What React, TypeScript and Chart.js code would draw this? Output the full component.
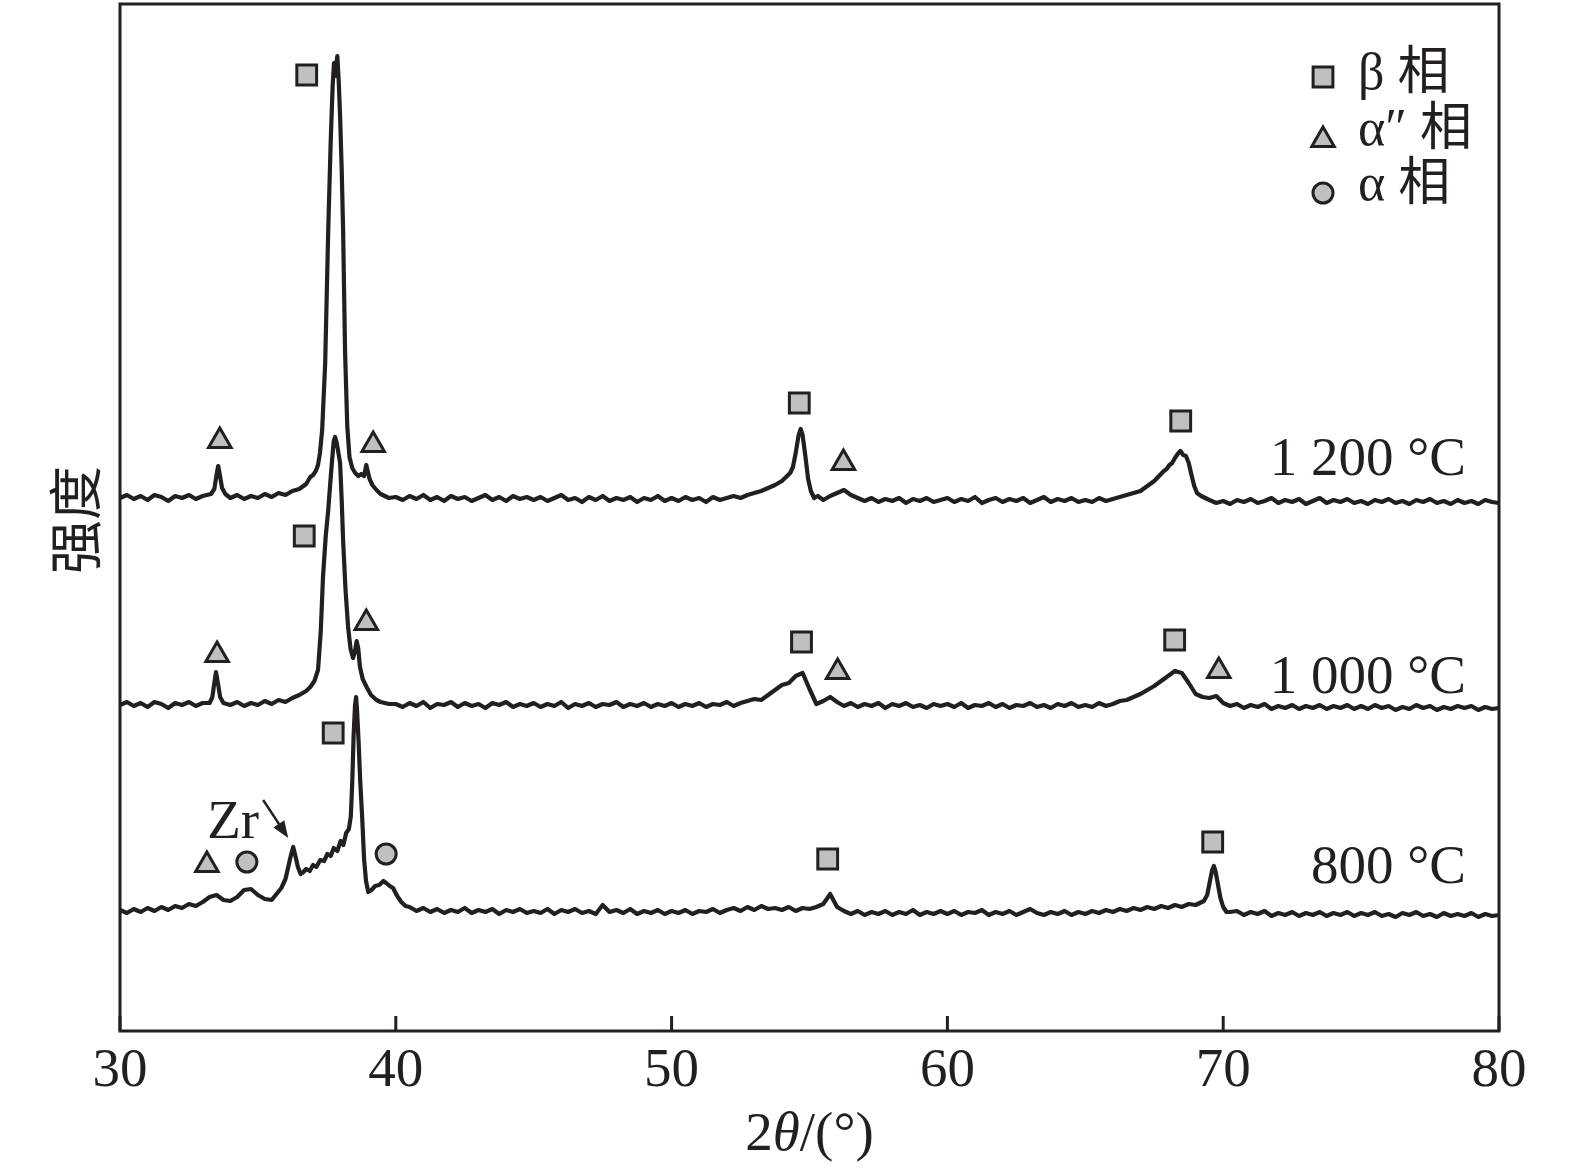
import React, { useEffect, useRef } from "react";
import { Chart, registerables } from "chart.js";

Chart.register(...registerables);

// ---- sampling grid (2θ, degrees) ----
const GRID = [
  30, 30.25, 30.5, 30.75, 31, 31.25, 31.5, 31.75, 32, 32.25, 32.5, 32.75, 33, 33.25, 33.5, 33.75, 34, 34.25, 34.5, 34.75,
  35, 35.25, 35.5, 35.75, 36, 36.25, 36.5, 36.75, 37, 37.25, 37.5, 37.75, 38, 38.25, 38.5, 38.75, 39, 39.25, 39.5, 39.75,
  40, 40.25, 40.5, 40.75, 41, 41.25, 41.5, 41.75, 42, 42.25, 42.5, 42.75, 43, 43.25, 43.5, 43.75, 44, 44.25, 44.5, 44.75,
  45, 45.25, 45.5, 45.75, 46, 46.25, 46.5, 46.75, 47, 47.25, 47.5, 47.75, 48, 48.25, 48.5, 48.75, 49, 49.25, 49.5, 49.75,
  50, 50.25, 50.5, 50.75, 51, 51.25, 51.5, 51.75, 52, 52.25, 52.5, 52.75, 53, 53.25, 53.5, 53.75, 54, 54.25, 54.5, 54.75,
  55, 55.25, 55.5, 55.75, 56, 56.25, 56.5, 56.75, 57, 57.25, 57.5, 57.75, 58, 58.25, 58.5, 58.75, 59, 59.25, 59.5, 59.75,
  60, 60.25, 60.5, 60.75, 61, 61.25, 61.5, 61.75, 62, 62.25, 62.5, 62.75, 63, 63.25, 63.5, 63.75, 64, 64.25, 64.5, 64.75,
  65, 65.25, 65.5, 65.75, 66, 66.25, 66.5, 66.75, 67, 67.25, 67.5, 67.75, 68, 68.25, 68.5, 68.75, 69, 69.25, 69.5, 69.75,
  70, 70.25, 70.5, 70.75, 71, 71.25, 71.5, 71.75, 72, 72.25, 72.5, 72.75, 73, 73.25, 73.5, 73.75, 74, 74.25, 74.5, 74.75,
  75, 75.25, 75.5, 75.75, 76, 76.25, 76.5, 76.75, 77, 77.25, 77.5, 77.75, 78, 78.25, 78.5, 78.75, 79, 79.25, 79.5, 79.75,
  80,
];

// ---- intensity (offset, arbitrary units) on the grid ----
const Y_1200 = [
  533, 536, 532, 535, 531, 536, 534, 530, 535, 533, 536, 532, 535, 537, 560, 540, 533, 536, 532, 535,
  533, 537, 534, 538, 536, 540, 542, 547, 556, 615, 955, 620, 572, 560, 556, 557, 563, 545, 537, 533,
  534, 531, 535, 532, 536, 531, 534, 530, 535, 532, 534, 530, 533, 536, 531, 534, 530, 535, 532, 534,
  531, 534, 530, 533, 536, 531, 533, 529, 534, 531, 535, 530, 533, 531, 534, 529, 533, 531, 535, 530,
  533, 530, 534, 531, 533, 529, 534, 531, 533, 535, 533, 536, 538, 540, 543, 546, 550, 556, 580, 598,
  545, 534, 531, 535, 538, 541, 536, 533, 530, 533, 529, 532, 530, 533, 528, 532, 530, 533, 529, 531,
  533, 529, 532, 530, 534, 528, 531, 533, 529, 532, 530, 533, 528, 531, 534, 529, 532, 530, 533, 529,
  531, 529, 533, 530, 532, 534, 536, 538, 540, 545, 550, 556, 566, 572, 578, 570, 540, 535, 531, 528,
  530, 527, 531, 529, 532, 528, 530, 533, 528, 531, 529, 532, 527, 530, 533, 528, 531, 529, 532, 528,
  530, 527, 531, 529, 532, 528, 530, 527, 531, 529, 532, 528, 530, 527, 531, 528, 530, 527, 531, 529,
  528,
];
const Y_1000 = [
  326, 329, 325, 328, 324, 329, 327, 323, 328, 326, 329, 325, 328, 330, 355, 330, 326, 329, 325, 328,
  326, 330, 327, 331, 329, 333, 336, 340, 348, 420, 530, 588, 500, 403, 378, 360, 343, 332, 329, 327,
  327, 324, 328, 325, 329, 323, 327, 326, 329, 324, 328, 325, 327, 323, 328, 326, 329, 324, 327, 325,
  328, 324, 327, 325, 329, 323, 327, 325, 328, 324, 327, 326, 329, 324, 327, 325, 328, 324, 327, 325,
  328, 324, 327, 325, 328, 324, 327, 326, 329, 325, 328, 330, 332, 331, 336, 341, 346, 348, 355, 358,
  342, 327, 330, 334, 329, 325, 328, 324, 327, 325, 328, 323, 327, 325, 328, 324, 326, 323, 327, 325,
  327, 324, 328, 323, 326, 325, 328, 324, 327, 323, 326, 325, 328, 324, 326, 323, 327, 325, 328, 324,
  326, 324, 328, 325, 327, 330, 331, 334, 337, 341, 345, 350, 355, 360, 358, 348, 337, 334, 333, 335,
  328, 325, 327, 323, 326, 324, 327, 322, 325, 323, 326, 322, 325, 323, 326, 322, 325, 323, 326, 322,
  325, 322, 326, 323, 325, 321, 324, 322, 326, 323, 325, 321, 324, 322, 325, 323, 325, 321, 324, 322,
  323,
];
const Y_800 = [
  121, 118, 122, 119, 123, 120, 124, 121, 125, 123, 127, 125, 129, 134, 136, 131, 130, 134, 141, 142,
  136, 132, 131, 137, 152, 176, 157, 162, 166, 171, 177, 180, 190, 202, 330, 250, 139, 145, 150, 145,
  138, 128, 124, 120, 123, 119, 122, 118, 121, 119, 123, 118, 121, 119, 122, 117, 121, 119, 122, 118,
  120, 118, 122, 117, 121, 119, 122, 118, 120, 117, 126, 119, 121, 118, 122, 117, 120, 118, 121, 117,
  120, 118, 121, 117, 120, 119, 122, 118, 121, 123, 120, 124, 121, 125, 122, 123, 121, 124, 120, 123,
  122, 124, 127, 137, 124, 120, 117, 120, 116, 119, 117, 120, 116, 119, 117, 121, 116, 119, 117, 120,
  117, 120, 116, 119, 118, 121, 116, 119, 117, 120, 116, 119, 122, 118, 116, 119, 117, 120, 116, 119,
  117, 120, 118, 121, 119, 122, 120, 123, 121, 124, 122, 125, 123, 126, 124, 127, 126, 130, 150, 160,
  124, 119, 120, 116, 119, 117, 120, 115, 118, 116, 119, 115, 118, 116, 119, 115, 118, 116, 119, 115,
  118, 116, 119, 115, 117, 114, 118, 116, 119, 115, 117, 114, 118, 115, 117, 115, 118, 114, 117, 115,
  116,
];

// ---- finer readings around the peaks ----
const PEAK_X_1200 = [
  33.3, 33.42, 33.5, 33.56, 33.62, 33.7, 33.82,
  36.9, 37.0, 37.1, 37.18, 37.25, 37.33, 37.44, 37.55, 37.64, 37.71, 37.76, 37.8, 37.84, 37.88, 37.93, 37.98,
  38.04, 38.09, 38.16, 38.24, 38.32, 38.42, 38.53, 38.64, 38.75, 38.85, 38.93, 38.98, 39.05, 39.15, 39.3, 39.45, 39.6,
  54.3, 54.4, 54.5, 54.6, 54.68, 54.75, 54.85, 54.95, 55.05, 55.17, 55.3,
  67.85, 67.95, 68.05, 68.15, 68.25, 68.35, 68.45, 68.55, 68.65, 68.75, 68.85, 68.95, 69.05, 69.2,
];
const PEAK_Y_1200 = [
  537, 542, 556, 565, 556, 543, 537,
  554, 556, 560, 566, 578, 601, 668, 801, 890, 945, 968, 955, 966, 975, 950, 915,
  860, 800, 680, 605, 574, 563, 558, 555, 557, 555, 566, 560, 552, 546, 541, 537, 535,
  558, 564, 578, 595, 602, 596, 575, 552, 540, 533, 535,
  560, 562, 566, 568, 573, 577, 580, 576, 575, 568, 556, 545, 538, 535,
];
const PEAK_X_1000 = [
  33.25, 33.35, 33.42, 33.48, 33.55, 33.63, 33.75,
  36.9, 37.05, 37.18, 37.28, 37.36, 37.46, 37.55, 37.63, 37.69, 37.75, 37.8, 37.86, 37.92, 37.98,
  38.04, 38.09, 38.18, 38.27, 38.36, 38.45, 38.52, 38.58, 38.64, 38.7, 38.8, 38.96, 39.1, 39.3, 39.45,
];
const PEAK_Y_1000 = [
  328, 334, 348, 359, 348, 334, 328,
  344, 350, 361, 400, 454, 495, 521, 550, 571, 590, 594, 588, 578, 568,
  530, 490, 440, 404, 382, 373, 380, 390, 382, 364, 352, 343, 336, 331, 329,
];
const PEAK_X_800 = [
  35.85, 36.0, 36.1, 36.2, 36.28, 36.36, 36.45, 36.55, 36.65, 36.75, 36.88, 37.0, 37.12, 37.26, 37.4, 37.52,
  37.64, 37.75, 37.88, 38.0, 38.1, 38.2, 38.3, 38.37, 38.42, 38.47, 38.52, 38.56, 38.6, 38.65, 38.71, 38.78,
  38.85, 38.92, 39.0, 39.12, 39.25, 39.4, 39.55, 39.65, 39.78, 39.9, 40.05, 40.2, 40.35, 40.5,
  69.3, 69.42, 69.52, 69.6, 69.66, 69.72, 69.8, 69.9, 70.0, 70.12,
];
const PEAK_Y_800 = [
  143, 152, 164, 176, 184, 175, 164, 157, 159, 162, 160, 166, 164, 171, 170, 177,
  175, 183, 180, 190, 186, 198, 202, 215, 248, 295, 325, 334, 318, 290, 250, 214,
  172, 150, 139, 141, 145, 146, 150, 148, 145, 143, 135, 129, 125, 124,
  130, 136, 150, 161, 165, 160, 148, 133, 124, 119,
];

// ---- phase markers ----
const BETA_ANGLES = [36.77, 54.63, 68.46, 36.68, 54.71, 68.24, 37.73, 55.66, 69.62];
const BETA_LEVELS = [956, 628, 610, 495, 389, 391, 298, 172, 189];
const ALPHA2_ANGLES = [33.62, 39.18, 56.23, 33.52, 38.93, 56.02, 69.84, 33.15];
const ALPHA2_LEVELS = [590, 586, 568, 376, 408, 359, 360, 166];
const ALPHA_ANGLES = [34.6, 39.65];
const ALPHA_LEVELS = [169, 177];

// ---- text ----
const X_TICKS = [30, 40, 50, 60, 70, 80];
const LEGEND_LABELS = ["β 相", "α″ 相", "α 相"];
const TEMP_LABELS = ["1 200 °C", "1 000 °C", "800 °C"];
const TEMP_LEVELS = [556, 338, 148];
const TEMP_ANGLE = 78.8;
const ZR_TEXT = "Zr";
const ZR_POS = [33.16, 193];
const ZR_ARROW = [35.19, 231, 36.1, 193];
const Y_TITLE = "强度";

const INK = "#231f20";
const FILL = "#c0c0c0";
const SERIF = '"Liberation Serif", "Noto Sans CJK SC", serif';

function buildSeries(gy: number[], px: number[], py: number[]) {
  const pts: { x: number; y: number }[] = [];
  GRID.forEach((x, i) => {
    if (!px.some((d) => Math.abs(d - x) < 0.12)) pts.push({ x, y: gy[i] });
  });
  px.forEach((x, i) => pts.push({ x, y: py[i] }));
  pts.sort((a, b) => a.x - b.x);
  return pts;
}

function marks(xs: number[], ys: number[]) {
  return xs.map((x, i) => ({ x, y: ys[i] }));
}

function drawMarker(ctx: CanvasRenderingContext2D, kind: string, cx: number, cy: number) {
  ctx.beginPath();
  if (kind === "rect") {
    const h = 14 * Math.SQRT1_2;
    ctx.rect(cx - h, cy - h, 2 * h, 2 * h);
  } else if (kind === "triangle") {
    const r = 13;
    ctx.moveTo(cx, cy - r);
    ctx.lineTo(cx + r * Math.sin((2 * Math.PI) / 3), cy - r * Math.cos((2 * Math.PI) / 3));
    ctx.lineTo(cx + r * Math.sin((4 * Math.PI) / 3), cy - r * Math.cos((4 * Math.PI) / 3));
    ctx.closePath();
  } else {
    ctx.arc(cx, cy, 10, 0, Math.PI * 2);
  }
  ctx.fillStyle = FILL;
  ctx.fill();
  ctx.lineWidth = 3;
  ctx.strokeStyle = INK;
  ctx.stroke();
}

const overlay = {
  id: "overlay",
  afterDraw(chart: any) {
    const { ctx, chartArea: a, scales } = chart;
    const x = scales.x;
    const y = scales.y;
    ctx.save();
    ctx.strokeStyle = INK;
    ctx.fillStyle = INK;
    ctx.lineWidth = 3;
    ctx.lineCap = "butt";
    ctx.strokeRect(a.left, a.top, a.right - a.left, a.bottom - a.top);
    // inward ticks
    x.ticks.forEach((t: any) => {
      const p = x.getPixelForValue(t.value);
      ctx.beginPath();
      ctx.moveTo(p, a.bottom);
      ctx.lineTo(p, a.bottom - 15);
      ctx.stroke();
    });
    // temperature labels
    ctx.font = `55px ${SERIF}`;
    ctx.textAlign = "right";
    ctx.textBaseline = "alphabetic";
    TEMP_LABELS.forEach((s, i) => {
      ctx.fillText(s, x.getPixelForValue(TEMP_ANGLE), y.getPixelForValue(TEMP_LEVELS[i]));
    });
    // Zr label and arrow
    ctx.textAlign = "left";
    ctx.fillText(ZR_TEXT, x.getPixelForValue(ZR_POS[0]), y.getPixelForValue(ZR_POS[1]));
    const x1 = x.getPixelForValue(ZR_ARROW[0]);
    const y1 = y.getPixelForValue(ZR_ARROW[1]);
    const x2 = x.getPixelForValue(ZR_ARROW[2]);
    const y2 = y.getPixelForValue(ZR_ARROW[3]);
    const ang = Math.atan2(y2 - y1, x2 - x1);
    const hl = 17;
    const hw = 6.5;
    ctx.lineWidth = 2.5;
    ctx.beginPath();
    ctx.moveTo(x1, y1);
    ctx.lineTo(x2 - Math.cos(ang) * hl * 0.8, y2 - Math.sin(ang) * hl * 0.8);
    ctx.stroke();
    ctx.beginPath();
    ctx.moveTo(x2, y2);
    ctx.lineTo(x2 - Math.cos(ang) * hl - Math.sin(ang) * hw, y2 - Math.sin(ang) * hl + Math.cos(ang) * hw);
    ctx.lineTo(x2 - Math.cos(ang) * hl + Math.sin(ang) * hw, y2 - Math.sin(ang) * hl - Math.cos(ang) * hw);
    ctx.closePath();
    ctx.fill();
    // legend
    const kinds = ["rect", "triangle", "circle"];
    const markY = [77, 140, 193];
    const textY = [89, 145, 200];
    const mx = a.right - 176;
    kinds.forEach((k, i) => {
      drawMarker(ctx, k, mx, a.top + markY[i] - 4);
      ctx.fillStyle = INK;
      ctx.font = `52px ${SERIF}`;
      ctx.textAlign = "left";
      ctx.textBaseline = "alphabetic";
      ctx.fillText(LEGEND_LABELS[i], mx + 35, a.top + textY[i] - 4);
    });
    // y title
    ctx.save();
    ctx.translate(75, 520);
    ctx.rotate(-Math.PI / 2);
    ctx.font = '54px "Noto Sans CJK SC"';
    ctx.textAlign = "center";
    ctx.textBaseline = "middle";
    ctx.fillStyle = INK;
    ctx.fillText(Y_TITLE, 0, 0);
    ctx.restore();
    // x title: 2θ/(°)
    const parts: [string, string][] = [
      ["2", `55px ${SERIF}`],
      ["θ", `italic 55px ${SERIF}`],
      ["/(°)", `55px ${SERIF}`],
    ];
    let total = 0;
    parts.forEach(([s, f]) => {
      ctx.font = f;
      total += ctx.measureText(s).width;
    });
    let cx = (a.left + a.right) / 2 - total / 2;
    ctx.textAlign = "left";
    ctx.textBaseline = "alphabetic";
    parts.forEach(([s, f]) => {
      ctx.font = f;
      ctx.fillText(s, cx, 1150);
      cx += ctx.measureText(s).width;
    });
    ctx.restore();
  },
};

export default function App() {
  const ref = useRef<HTMLCanvasElement>(null);
  useEffect(() => {
    if (!ref.current) return;
    const line = (data: any) => ({
      type: "line",
      data,
      borderColor: INK,
      borderWidth: 4.2,
      borderJoinStyle: "round",
      pointRadius: 0,
      tension: 0,
      order: 2,
    });
    const marker = (data: any, style: string, r: number) => ({
      type: "line",
      data,
      showLine: false,
      pointStyle: style,
      pointRadius: r,
      pointBorderWidth: 3,
      pointBackgroundColor: FILL,
      pointBorderColor: INK,
      order: 1,
    });
    const chart = new Chart(ref.current, {
      type: "line",
      data: {
        datasets: [
          line(buildSeries(Y_1200, PEAK_X_1200, PEAK_Y_1200)),
          line(buildSeries(Y_1000, PEAK_X_1000, PEAK_Y_1000)),
          line(buildSeries(Y_800, PEAK_X_800, PEAK_Y_800)),
          marker(marks(BETA_ANGLES, BETA_LEVELS), "rect", 14),
          marker(marks(ALPHA2_ANGLES, ALPHA2_LEVELS), "triangle", 13),
          marker(marks(ALPHA_ANGLES, ALPHA_LEVELS), "circle", 10),
        ] as any,
      },
      options: {
        animation: false,
        responsive: false,
        devicePixelRatio: 1,
        events: [],
        layout: { autoPadding: false, padding: { left: 120, right: 76, top: 4, bottom: 0 } },
        plugins: { legend: { display: false }, tooltip: { enabled: false } },
        scales: {
          x: {
            type: "linear",
            min: 30,
            max: 80,
            afterBuildTicks: (s: any) => {
              s.ticks = X_TICKS.map((v) => ({ value: v }));
            },
            afterFit: (s: any) => {
              s.height = 143;
            },
            grid: { display: false, drawTicks: false },
            border: { display: false },
            ticks: {
              autoSkip: false,
              maxRotation: 0,
              padding: 8,
              color: INK,
              font: { family: SERIF, size: 55 },
            },
          },
          y: {
            type: "linear",
            min: 0,
            max: 1027,
            display: false,
          },
        },
      } as any,
      plugins: [overlay],
    });
    return () => chart.destroy();
  }, []);
  return (
    <div style={{ position: "absolute", left: 0, top: 0, width: 1575, height: 1174, background: "#fff" }}>
      <canvas ref={ref} width={1575} height={1174} />
    </div>
  );
}
